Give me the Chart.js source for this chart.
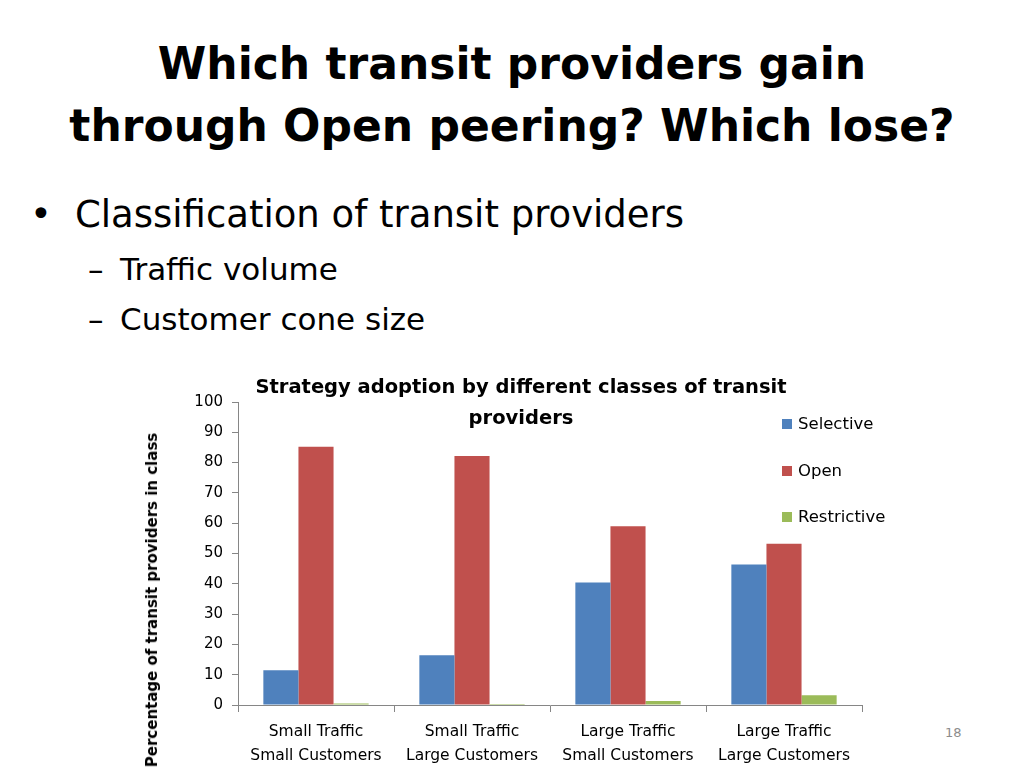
<!DOCTYPE html>
<html>
<head>
<meta charset="utf-8">
<script src="https://cdn.jsdelivr.net/npm/chart.js@4/dist/chart.umd.min.js"></script>
<style>
    html, body { margin: 0; padding: 0; background: #fff; }
    body { width: 1024px; height: 768px; position: relative; overflow: hidden; font-family: "DejaVu Sans", sans-serif; color: #000; }
    .abs { position: absolute; white-space: nowrap; }
    #title { left: 0; width: 1024px; top: 33px; text-align: center; font-weight: bold; font-size: 44px; line-height: 62px; }
    #b1 { left: 30px; top: 193px; font-size: 37px; }
    #b1 span { display: inline-block; width: 45px; }
    .sub { left: 88px; font-size: 31px; }
    .sub span { display: inline-block; width: 32px; }
    #chartBox { left: 140px; top: 380px; width: 760px; height: 388px; }
    #chartTitle { left: 221px; width: 600px; top: 371px; text-align: center; font-weight: bold; font-size: 19.5px; line-height: 31px; }
    #yTitle { left: 152px; top: 600px; transform: translate(-50%, -50%) rotate(-90deg); font-weight: bold; font-size: 15px; }
    #legend { left: 782px; top: 414px; font-size: 16.5px; }
    #legend div { height: 46.5px; }
    #legend i { display: inline-block; width: 10px; height: 10px; margin-right: 6px; }
    #pageNum { left: 945px; top: 725px; font-size: 13px; color: #8c8c8c; }
</style>
</head>
<body>
<div id="title" class="abs">Which transit providers gain<br>through Open peering? Which lose?</div>
<div id="b1" class="abs"><span>•</span>Classification of transit providers</div>
<div class="abs sub" style="top:251px"><span>–</span>Traffic volume</div>
<div class="abs sub" style="top:301px"><span>–</span>Customer cone size</div>

<div id="chartBox" class="abs"><canvas id="barChart" width="760" height="388"></canvas></div>
<div id="chartTitle" class="abs">Strategy adoption by different classes of transit<br>providers</div>
<div id="yTitle" class="abs">Percentage of transit providers in class</div>
<div id="legend" class="abs"></div>
<div id="pageNum" class="abs">18</div>

<script>
const categories = [
    ["Small Traffic", "Small Customers"],
    ["Small Traffic", "Large Customers"],
    ["Large Traffic", "Small Customers"],
    ["Large Traffic", "Large Customers"]
];
const seriesNames = ["Selective", "Open", "Restrictive"];
const selective = [11.5, 16.4, 40.4, 46.4];
const open = [85.2, 82.2, 59.0, 53.2];
const restrictive = [0.5, 0.3, 1.3, 3.2];
const seriesColors = ["#4F81BD", "#C0504D", "#9BBB59"];
const yTicks = [0, 10, 20, 30, 40, 50, 60, 70, 80, 90, 100];

// legend
const legend = document.getElementById("legend");
seriesNames.forEach((name, i) => {
    const row = document.createElement("div");
    row.innerHTML = `<i style="background:${seriesColors[i]}"></i>${name}`;
    legend.appendChild(row);
});

const axisColor = "#868686";
const values = [selective, open, restrictive];

new Chart(document.getElementById("barChart").getContext("2d"), {
    type: "bar",
    data: {
        labels: categories,
        datasets: seriesNames.map((name, i) => ({
            label: name,
            data: values[i],
            backgroundColor: seriesColors[i],
            borderWidth: 0,
            categoryPercentage: 0.675,
            barPercentage: 1.0
        }))
    },
    options: {
        responsive: false,
        animation: false,
        layout: { padding: { left: 0, top: 22, right: 38, bottom: 0 } },
        plugins: {
            legend: { display: false },
            title: { display: false },
            tooltip: { enabled: false }
        },
        scales: {
            x: {
                grid: { display: true, drawOnChartArea: false, drawTicks: true, tickLength: 7, color: axisColor, offset: true },
                border: { display: true, color: axisColor },
                ticks: {
                    color: "#000",
                    font: { family: "DejaVu Sans", size: 15.5, lineHeight: 1.55 },
                    padding: 8,
                    maxRotation: 0
                },
                afterFit(scale) { scale.height = 63; }
            },
            y: {
                min: 0,
                max: 100,
                afterBuildTicks(scale) { scale.ticks = yTicks.map(v => ({ value: v })); },
                grid: { display: true, drawOnChartArea: false, drawTicks: true, tickLength: 6, color: axisColor },
                border: { display: true, color: axisColor },
                ticks: {
                    color: "#000",
                    font: { family: "DejaVu Sans", size: 15 },
                    padding: 9
                },
                afterFit(scale) { scale.width = 98; }
            }
        }
    }
});
</script>
</body>
</html>
